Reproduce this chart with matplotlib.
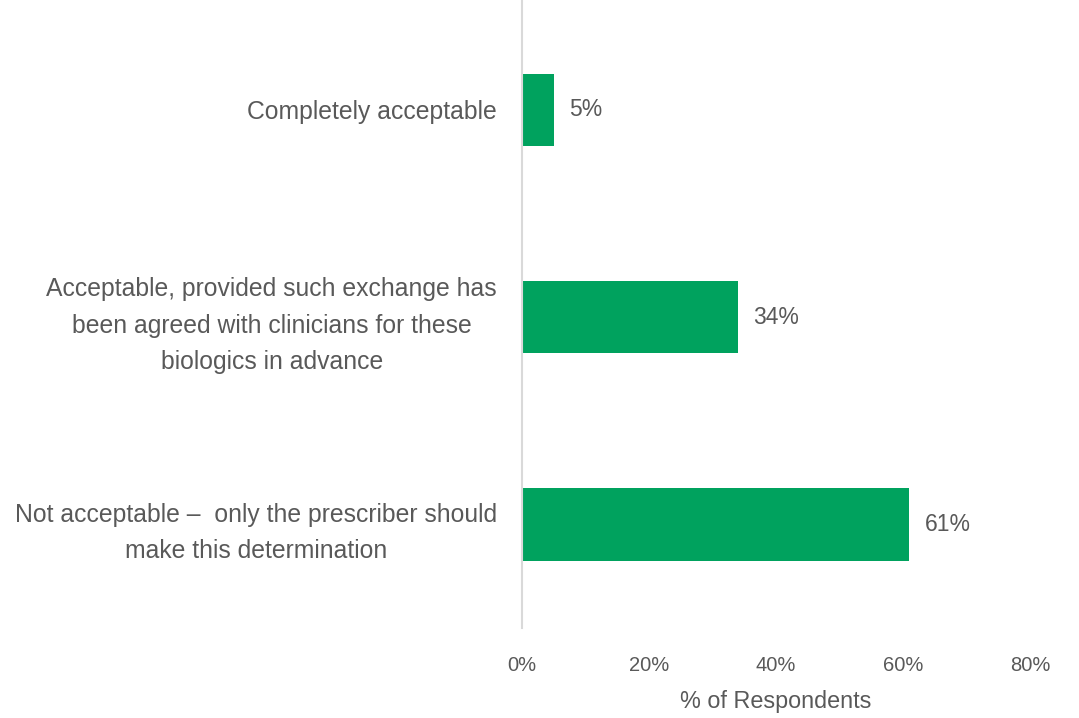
import matplotlib
matplotlib.use("Agg")
import matplotlib.pyplot as plt
from matplotlib.ticker import FuncFormatter

categories = [
    "Completely acceptable",
    "Acceptable, provided such exchange has\nbeen agreed with clinicians for these\nbiologics in advance",
    "Not acceptable \u2013  only the prescriber should\nmake this determination",
]
values = [5, 34, 61]
xticks = [0, 20, 40, 60, 80]
xlabel = "% of Respondents"

bar_color = "#00A25E"
text_color = "#595959"
plt.rcParams['font.family'] = ['Liberation Sans', 'DejaVu Sans']

fig = plt.figure(figsize=(10.79, 7.18), dpi=100)
ax = fig.add_axes([522/1079, 1 - 628/718, (1030-522)/1079, 628/718])

ypos = list(range(len(categories)))
ax.barh(ypos, values, height=0.35, color=bar_color)
ax.set_ylim(2.5, -0.53)
ax.set_xlim(0, 80)

for y, v in zip(ypos, values):
    ax.text(v + 2.4, y, f"{v}%", va="center", ha="left", fontsize=16.5, color=text_color)

ax.set_yticks(ypos)
ax.set_yticklabels(categories, fontsize=17.8, color=text_color, ha="right",
                   multialignment="center", linespacing=1.66)
ax.tick_params(axis="y", length=0, pad=18)

ax.set_xticks(xticks)
ax.xaxis.set_major_formatter(FuncFormatter(lambda v, p: f"{int(v)}%"))
ax.tick_params(axis="x", length=0, labelsize=14.5, labelcolor=text_color, pad=20)
ax.set_xlabel(xlabel, fontsize=16.8, color=text_color, labelpad=11)

for s in ["top", "right", "bottom"]:
    ax.spines[s].set_visible(False)
ax.spines["left"].set_color("#D9D9D9")
ax.spines["left"].set_linewidth(1.5)

fig.savefig("out.png", dpi=100)
